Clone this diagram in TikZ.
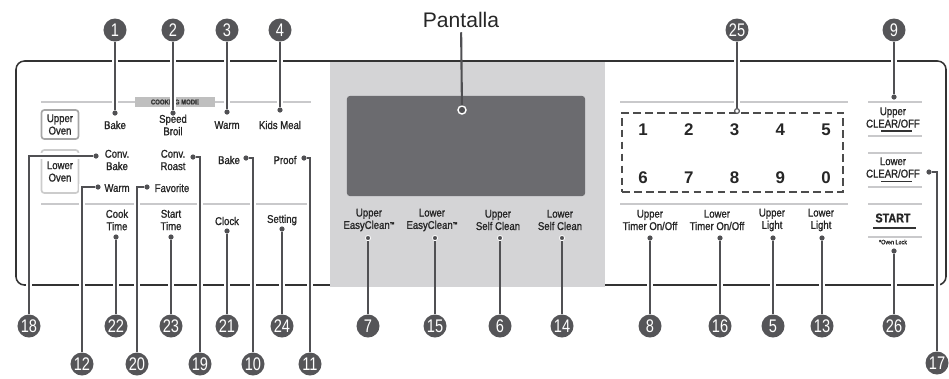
\documentclass[tikz,border=0pt]{standalone}
\usepackage{fontspec}
\setmainfont{Liberation Sans}
\newfontfamily\condfont{Liberation Sans}[FakeStretch=0.85, FakeBold=1.2]
\newfontfamily\badgefont{Liberation Sans}[FakeStretch=0.8]
\usetikzlibrary{calc}
\definecolor{badgegray}{HTML}{555558}
\definecolor{panelgray}{HTML}{D4D4D6}
\definecolor{screengray}{HTML}{6B6B6F}
\definecolor{rulegray}{HTML}{C9C9CB}
\definecolor{linegray}{HTML}{505053}
\newcommand{\tm}{{\fontsize{4}{4}\selectfont\raisebox{2pt}{™}}}

\begin{document}
\begin{tikzpicture}[x=0.025cm, y=-0.025cm,
  badge/.style={circle, fill=badgegray, text=white, minimum size=0.575cm, inner sep=0pt, font=\badgefont\fontsize{13}{13}\selectfont},
  key/.style={align=center, inner sep=0pt, text=black!85, font=\condfont\fontsize{8}{8.8}\selectfont},
  dot/.style={circle, fill=linegray, minimum size=0.13cm, inner sep=0pt},
  ringdot/.style={dot, draw=white, line width=0.6pt},
  lead/.style={draw=linegray, line width=1.5pt, preaction={draw=white, line width=4.5pt}},
  leadplain/.style={draw=linegray, line width=1.5pt},
  rule/.style={draw=rulegray, line width=1.4pt},
  ovenbox/.style={key, draw=black!35, line width=1.2pt, rounded corners=2pt, minimum width=0.925cm}]
  \useasboundingbox (0,0) rectangle (949,378);
  \draw[black!80, line width=1.1pt, rounded corners=6pt] (16,61) rectangle (946,285);
  \fill[panelgray] (330,62) rectangle (605,286.5);
  \node[fill=screengray, rounded corners=2pt, minimum width=5.95cm, minimum height=2.5cm, inner sep=0pt] (display) at (466,146) {};
  \draw[rule] (41,102) -- (311,102);
  \draw[rule] (41,204) -- (308,204);
  \draw[rule] (620,102) -- (848,102);
  \draw[rule] (620,204) -- (848,204);
  \foreach \ry in {102,136,153,187,204,237}
    \draw[rule] (868,\ry) -- (922,\ry);
  \node[fill=black!25, minimum width=1.975cm, minimum height=0.25cm, inner sep=0pt, font=\condfont\bfseries\fontsize{5}{5}\selectfont, text=black!80] (mode) at (175,102) {COOKING MODE};
  \node[ovenbox, minimum height=0.725cm] (upoven) at (60,124.5) {Upper\\Oven};
  \node[ovenbox, draw=black!20, minimum height=1.075cm] (lowoven) at (60,171.5) {Lower\\Oven};
  \node[draw=black!70, line width=1.4pt, dash pattern=on 5.5pt off 3pt, minimum width=5.525cm, minimum height=1.975cm, inner sep=0pt] (keypad) at (732.5,152.5) {};
  \node[font=\fontsize{15}{15}\selectfont, text=black!85, inner sep=3pt] (pantalla) at (461,20) {Pantalla};
  \node[key] (bake) at (115,125) {Bake};
  \node[key] (speed) at (173,125) {Speed\\Broil};
  \node[key] (warm) at (227,125) {Warm};
  \node[key] (kids) at (280,125) {Kids Meal};
  \node[key] (convbake) at (117,160) {Conv.\\Bake};
  \node[key] (convroast) at (173,160) {Conv.\\Roast};
  \node[key] (lowbake) at (229,160) {Bake};
  \node[key] (proof) at (285,160) {Proof};
  \node[key] (lowwarm) at (117,188) {Warm};
  \node[key] (favorite) at (172,188) {Favorite};
  \node[key] (cook) at (117,220) {Cook\\Time};
  \node[key] (start) at (171,220) {Start\\Time};
  \node[key] (clock) at (227,221) {Clock};
  \node[key] (setting) at (282,220) {Setting};
  \node[key] (upeasy) at (369,220) {Upper\\EasyClean\tm};
  \node[key] (loweasy) at (432,220) {Lower\\EasyClean\tm};
  \node[key] (upself) at (498,220) {Upper\\Self Clean};
  \node[key] (lowself) at (560,220) {Lower\\Self Clean};
  \node[key] (uptimer) at (650,220) {Upper\\Timer On/Off};
  \node[key] (lowtimer) at (717,220) {Lower\\Timer On/Off};
  \node[key] (uplight) at (772,220) {Upper\\Light};
  \node[key] (lowlight) at (821,220) {Lower\\Light};
  \node[key] (upclear) at (893,117.5) {Upper\\CLEAR/OFF};
  \node[key] (lowclear) at (893,167.5) {Lower\\CLEAR/OFF};
  \node[key, font=\condfont\bfseries\fontsize{9}{9}\selectfont] (startkey) at (893,218) {START};
  \node[key, font=\condfont\fontsize{4.5}{4.5}\selectfont] (ovenlock) at (893,242) {*Oven Lock};
  \foreach \d [count=\i from 0] in {1,2,3,4,5}
    \node[font=\bfseries\fontsize{12}{12}\selectfont, text=black!85] (k\d) at (643+\i*45.75,130) {\d};
  \foreach \d [count=\i from 0] in {6,7,8,9,0}
    \node[font=\bfseries\fontsize{12}{12}\selectfont, text=black!85] (k\d) at (643+\i*45.75,178) {\d};
  \draw[black!80, line width=1pt] (881,131) -- (912,131);
  \draw[black!80, line width=1pt] (881,181.5) -- (912,181.5);
  \draw[black!80, line width=2pt] (873,228) -- (916,228);
  % dots
  \node[dot] (d1) at (115,113) {};
  \node[dot] (d2) at (173,113) {};
  \node[dot] (d3) at (227,112) {};
  \node[dot] (d4) at (280,110) {};
  \node[dot] (d9) at (894,97) {};
  \node[circle, fill=white, draw=linegray, line width=0.8pt, minimum size=0.12cm, inner sep=0pt] (d25) at (737,111) {};
  \node[circle, fill=linegray, draw=white, line width=1pt, minimum size=0.2cm, inner sep=0pt] (dpan) at (462,110) {};
  \node[dot] (d18) at (96,156) {};
  \node[dot] (d19) at (193,157) {};
  \node[dot] (d10) at (246,158) {};
  \node[dot] (d11) at (304,158) {};
  \node[dot] (d12) at (98,187) {};
  \node[dot] (d20) at (147,187) {};
  \node[dot] (d22) at (116,237) {};
  \node[dot] (d23) at (171,237) {};
  \node[dot] (d21) at (227,231) {};
  \node[dot] (d24) at (282,229) {};
  \node[ringdot] (d7) at (368,238) {};
  \node[ringdot] (d15) at (435,238) {};
  \node[ringdot] (d6) at (500,238) {};
  \node[ringdot] (d14) at (562,238) {};
  \node[dot] (d8) at (650,238) {};
  \node[dot] (d16) at (720,238) {};
  \node[dot] (d5) at (773,238) {};
  \node[dot] (d13) at (822,238) {};
  \node[dot] (d26) at (894,251) {};
  \node[dot] (d17) at (929,172) {};
  % badges
  \node[badge] (b1) at (115,30) {1};
  \node[badge] (b2) at (173,30) {2};
  \node[badge] (b3) at (227,30) {3};
  \node[badge] (b4) at (280,30) {4};
  \node[badge] (b25) at (737,30) {25};
  \node[badge] (b9) at (894,30) {9};
  \node[badge] (b18) at (29,326) {18};
  \node[badge] (b22) at (116,326) {22};
  \node[badge] (b23) at (171,326) {23};
  \node[badge] (b21) at (227,326) {21};
  \node[badge] (b24) at (282,326) {24};
  \node[badge] (b7) at (368,326) {7};
  \node[badge] (b15) at (435,326) {15};
  \node[badge] (b6) at (500,326) {6};
  \node[badge] (b14) at (562,326) {14};
  \node[badge] (b8) at (650,326) {8};
  \node[badge] (b16) at (720,326) {16};
  \node[badge] (b5) at (773,326) {5};
  \node[badge] (b13) at (822,326) {13};
  \node[badge] (b26) at (894,326) {26};
  \node[badge] (b12) at (82,364) {12};
  \node[badge] (b20) at (137,364) {20};
  \node[badge] (b19) at (200,364) {19};
  \node[badge] (b10) at (253,364) {10};
  \node[badge] (b11) at (310,364) {11};
  \node[badge] (b17) at (937,363) {17};
  % leaders
  \foreach \n in {1,2,3,4,9,25,22,23,21,24,8,16,5,13,26}
    \draw[lead] (d\n) -- (b\n);
  \foreach \n in {18,19,10,11,12,20,17}
    \draw[lead] (d\n) -| (b\n);
  \foreach \n in {7,15,6,14}
    \draw[leadplain] (d\n) -- (b\n);
  \draw[leadplain] (dpan) -- (pantalla);
\end{tikzpicture}
\end{document}
